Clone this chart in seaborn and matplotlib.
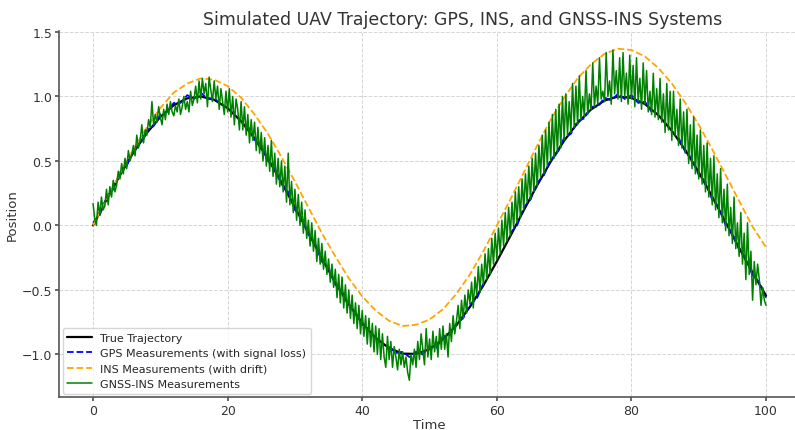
"""
Trajetória simulada de UAV: GPS, INS e GNSS-INS
"""
import numpy as np
import pandas as pd
import seaborn as sns
import matplotlib.pyplot as plt
from matplotlib.lines import Line2D

# Trajetória verdadeira (passo 2)
t_true = list(range(0, 101, 2))
pos_true = [0.00, 0.199, 0.389, 0.565, 0.717, 0.841, 0.932, 0.985, 1.000, 0.974,
            0.909, 0.808, 0.675, 0.516, 0.335, 0.141, -0.058, -0.256, -0.443, -0.612,
            -0.757, -0.872, -0.952, -0.994, -0.996, -0.959, -0.883, -0.773, -0.631, -0.465,
            -0.279, -0.083, 0.117, 0.312, 0.494, 0.657, 0.794, 0.899, 0.968, 0.999,
            0.989, 0.941, 0.855, 0.734, 0.585, 0.412, 0.223, 0.025, -0.174, -0.366,
            -0.544]

# GPS (passo 1, nan = perda de sinal)
t_gps = list(range(0, 101))
pos_gps = [0.02, 0.08, 0.22, 0.28, 0.41, 0.46, 0.58, 0.63, 0.74, 0.77,
           0.86, 0.88, 0.95, 0.95, 1.01, 0.98, 1.03, 0.98, 0.99, 0.93,
           np.nan, np.nan, np.nan, 0.77, 0.66, 0.62, 0.50, 0.44, 0.32, 0.26,
           0.12, 0.06, -0.07, -0.14, -0.28, -0.33, -0.46, -0.51, -0.63, -0.67,
           -0.78, np.nan, np.nan, np.nan, -0.94, -0.99, -0.98, -1.02, -0.98, -1.00,
           -0.94, -0.95, -0.86, -0.85, -0.76, -0.72, -0.61, -0.57, -0.45, np.nan,
           np.nan, np.nan, -0.06, 0.00, 0.14, 0.20, 0.33, 0.39, 0.51, 0.56,
           0.68, 0.71, 0.81, 0.83, 0.92, 0.92, 0.99, 0.97, 1.02, 0.98,
           1.01, 0.95, 0.96, 0.88, np.nan, np.nan, np.nan, 0.68, 0.57, 0.52,
           0.39, 0.34, 0.20, 0.14, 0.00, -0.06, -0.19, -0.25, -0.39, -0.44,
           -0.56]

# INS com deriva (passo 2)
t_ins = list(range(0, 101, 2))
pos_ins = [0.00, 0.20, 0.40, 0.59, 0.76, 0.91, 1.03, 1.10, 1.14, 1.13,
           1.08, 0.99, 0.86, 0.71, 0.53, 0.34, 0.14, -0.06, -0.24, -0.41,
           -0.55, -0.66, -0.74, -0.78, -0.77, -0.73, -0.65, -0.53, -0.38, -0.20,
           0.00, 0.20, 0.41, 0.62, 0.82, 0.99, 1.14, 1.25, 1.33, 1.37,
           1.36, 1.31, 1.22, 1.10, 0.95, 0.78, 0.59, 0.39, 0.19, -0.01,
           -0.17]

# GNSS-INS (passo 0.25)
t_fus = [i * 0.25 for i in range(401)]
pos_fus = [0.17, 0.05, 0.00, 0.18, 0.08, 0.22, 0.12, 0.15,
           0.28, 0.16, 0.30, 0.22, 0.35, 0.26, 0.31, 0.42,
           0.36, 0.48, 0.40, 0.52, 0.44, 0.58, 0.50, 0.55,
           0.62, 0.54, 0.70, 0.60, 0.66, 0.78, 0.64, 0.74,
           0.70, 0.82, 0.76, 0.96, 0.78, 0.86, 0.80, 0.92,
           0.84, 0.78, 0.90, 0.82, 0.94, 0.86, 0.96, 0.88,
           0.85, 0.93, 0.88, 0.98, 0.86, 0.92, 1.00, 0.90,
           0.96, 0.88, 1.04, 0.93, 0.98, 1.08, 0.95, 1.12,
           0.98, 1.14, 1.02, 1.10, 0.92, 1.15, 1.05, 0.96,
           1.12, 0.98, 1.08, 0.90, 1.06, 0.96, 0.86, 1.04,
           0.88, 1.06, 0.84, 1.00, 0.78, 0.98, 0.90, 0.74,
           0.96, 0.74, 0.92, 0.70, 0.86, 0.64, 0.82, 0.66,
           0.80, 0.58, 0.76, 0.56, 0.72, 0.50, 0.68, 0.46,
           0.62, 0.42, 0.66, 0.38, 0.56, 0.32, 0.52, 0.30,
           0.50, 0.26, 0.46, 0.18, 0.56, 0.16, 0.34, 0.10,
           0.28, 0.04, 0.24, 0.00, 0.18, -0.06, 0.12, -0.10,
           0.04, -0.16, 0.02, -0.20, -0.04, -0.28, -0.10, -0.30,
           -0.14, -0.34, -0.20, -0.38, -0.26, -0.44, -0.30, -0.48,
           -0.34, -0.56, -0.38, -0.60, -0.40, -0.64, -0.46, -0.68,
           -0.50, -0.72, -0.54, -0.76, -0.60, -0.80, -0.62, -0.84,
           -0.66, -0.86, -0.70, -0.92, -0.72, -0.94, -0.76, -0.98,
           -0.78, -1.00, -0.80, -1.04, -0.84, -1.02, -1.10, -0.86,
           -1.04, -0.90, -1.10, -0.94, -1.02, -1.12, -0.96, -1.08,
           -0.98, -1.10, -1.02, -1.14, -1.20, -1.00, -1.08, -0.96,
           -1.10, -0.90, -1.04, -0.84, -0.96, -1.08, -0.80, -1.02,
           -0.88, -1.04, -0.82, -0.98, -0.86, -1.02, -0.80, -0.96,
           -0.78, -0.96, -0.84, -1.02, -0.76, -0.90, -0.70, -0.84,
           -0.74, -0.62, -0.80, -0.58, -0.72, -0.54, -0.68, -0.50,
           -0.60, -0.44, -0.64, -0.40, -0.54, -0.32, -0.52, -0.30,
           -0.46, -0.22, -0.42, -0.18, -0.38, -0.10, -0.30, -0.06,
           -0.26, -0.02, -0.22, 0.04, -0.16, 0.10, -0.12, 0.14,
           -0.08, 0.18, -0.02, 0.26, 0.02, 0.30, 0.06, 0.36,
           0.12, 0.40, 0.18, 0.46, 0.20, 0.52, 0.26, 0.56,
           0.30, 0.62, 0.38, 0.70, 0.40, 0.74, 0.46, 0.80,
           0.50, 0.86, 0.52, 0.90, 0.56, 0.94, 0.60, 1.00,
           0.66, 1.02, 0.70, 0.96, 0.72, 1.10, 0.76, 1.08,
           0.78, 1.16, 0.82, 1.00, 0.84, 1.20, 0.86, 1.02,
           0.90, 1.26, 0.92, 1.08, 0.94, 1.30, 0.98, 1.04,
           0.96, 1.34, 1.00, 1.12, 0.94, 1.36, 1.02, 1.20,
           0.98, 1.30, 0.96, 1.34, 1.00, 1.18, 0.94, 1.32,
           0.98, 1.24, 0.92, 1.30, 0.96, 1.14, 0.90, 1.26,
           0.94, 1.20, 0.88, 1.04, 0.86, 1.18, 0.84, 1.06,
           0.82, 1.14, 0.80, 1.02, 0.72, 1.10, 0.74, 1.04,
           0.66, 1.04, 0.70, 0.90, 0.62, 0.98, 0.60, 0.88,
           0.56, 0.90, 0.48, 0.78, 0.44, 0.84, 0.40, 0.70,
           0.36, 0.74, 0.32, 0.62, 0.26, 0.64, 0.22, 0.52,
           0.16, 0.54, 0.12, 0.40, 0.06, 0.44, 0.02, 0.28,
           -0.04, 0.32, -0.08, 0.14, -0.14, 0.22, -0.18, 0.02,
           -0.24, 0.10, -0.30, -0.06, -0.42, 0.02, -0.38, -0.20,
           -0.58, -0.28, -0.46, -0.30, -0.42, -0.62, -0.48, -0.58,
           -0.62]

df_true = pd.DataFrame({'Time': t_true, 'Position': pos_true})
df_ins = pd.DataFrame({'Time': t_ins, 'Position': pos_ins})
df_fus = pd.DataFrame({'Time': t_fus, 'Position': pos_fus})
df_gps = pd.DataFrame({'Time': t_gps, 'Position': pos_gps})
# segmentos entre as perdas de sinal
df_gps['seg'] = df_gps['Position'].isna().cumsum()
df_gps = df_gps.dropna()

sns.set_theme(style='whitegrid', rc={
    'grid.linestyle': '--',
    'grid.color': '#d5d5d5',
    'grid.linewidth': 0.7,
    'axes.edgecolor': '#555555',
    'axes.linewidth': 1.2,
    'xtick.bottom': True,
    'ytick.left': True,
    'xtick.color': '#555555',
    'ytick.color': '#555555',
    'xtick.labelcolor': '#333333',
    'ytick.labelcolor': '#333333',
    'xtick.major.size': 3,
    'ytick.major.size': 3,
})
plt.rcParams['font.family'] = ['DejaVu Sans']

fig = plt.figure(figsize=(7.95, 4.31), dpi=100)
ax = fig.add_axes([0.0747, 0.0766, 0.9312, 0.85])

sns.lineplot(data=df_true, x='Time', y='Position', color='black', lw=1.6, ax=ax)
sns.lineplot(data=df_gps, x='Time', y='Position', units='seg', estimator=None,
             color='blue', lw=1.3, linestyle='--', ax=ax)
sns.lineplot(data=df_ins, x='Time', y='Position', color='orange', lw=1.3,
             linestyle='--', ax=ax)
sns.lineplot(data=df_fus, x='Time', y='Position', color='green', lw=1.1, ax=ax)

ax.set_xlim(-5, 105)
ax.set_ylim(-1.33, 1.51)
ax.set_xticks([0, 20, 40, 60, 80, 100])
ax.set_yticks([-1.0, -0.5, 0.0, 0.5, 1.0, 1.5])
ax.tick_params(labelsize=9, pad=2)
ax.spines['top'].set_visible(False)
ax.spines['right'].set_visible(False)
ax.set_xlabel('Time', fontsize=9.5, color='#333333', labelpad=1)
ax.set_ylabel('Position', fontsize=9.5, color='#333333', labelpad=2)
ax.set_title('Simulated UAV Trajectory: GPS, INS, and GNSS-INS Systems',
             fontsize=12.5, color='#333333', x=0.545, pad=5)

handles = [
    Line2D([], [], color='black', lw=1.6),
    Line2D([], [], color='blue', lw=1.3, linestyle='--'),
    Line2D([], [], color='orange', lw=1.3, linestyle='--'),
    Line2D([], [], color='green', lw=1.1),
]
labels = ['True Trajectory', 'GPS Measurements (with signal loss)',
          'INS Measurements (with drift)', 'GNSS-INS Measurements']
leg = ax.legend(handles, labels, loc='lower left', fontsize=8, frameon=True,
                borderaxespad=0.3, handlelength=2.2, labelspacing=0.5)
leg.get_frame().set_edgecolor('#cccccc')

plt.savefig('out.png', dpi=100)
